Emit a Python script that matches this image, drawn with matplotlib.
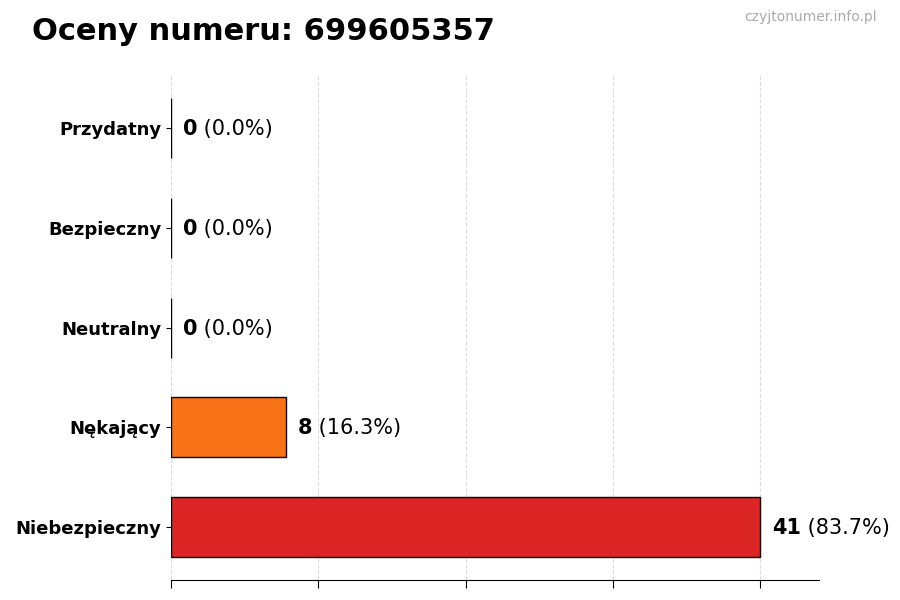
import numpy as np
import matplotlib.pyplot as plt

# DATA
categories = ["Niebezpieczny", "Nękający", "Neutralny", "Bezpieczny", "Przydatny"]
counts = [41, 8, 0, 0, 0]
colors = ["#dc2626", "#f97316", "#9ca3af", "#22c55e", "#3b82f6"]
title = "Oceny numeru: 699605357"
watermark = "czyjtonumer.info.pl"

total = sum(counts)
maxval = max(counts)

fig = plt.figure(figsize=(9, 6), dpi=100)
ax = fig.add_axes([0.19, 0.033, 0.72, 0.842])

y = np.arange(len(categories))
ax.barh(y, counts, height=0.6, color=colors, edgecolor="black", linewidth=1, zorder=3)

ax.set_yticks(y)
ax.set_yticklabels(categories, fontsize=13, fontweight="bold")
ax.set_xticks(np.linspace(0, maxval, 5))
ax.set_xticklabels([])
ax.tick_params(axis="x", length=6)
ax.set_xlim(0, maxval * 1.1)
ax.set_ylim(-0.53, 4.53)
ax.grid(axis="x", linestyle="--", color="#dddddd", linewidth=0.8, zorder=0)

for s in ["top", "right", "left"]:
    ax.spines[s].set_visible(False)

off = maxval * 0.02
for yi, c in zip(y, counts):
    pct = c / total * 100
    t = ax.text(c + off, yi - 0.01, str(c), fontsize=15, fontweight="bold", va="center", ha="left")
    fig.canvas.draw()
    bb = t.get_window_extent()
    x2 = ax.transData.inverted().transform((bb.x1, bb.y0))[0]
    ax.text(x2, yi - 0.01, " (%.1f%%)" % pct, fontsize=15, va="center", ha="left")

fig.text(0.035, 0.947, title, fontsize=22, fontweight="bold", va="center", ha="left")
fig.text(0.974, 0.971, watermark, fontsize=10, color="#aaaaaa", va="center", ha="right")

plt.savefig("out.png", dpi=100)
